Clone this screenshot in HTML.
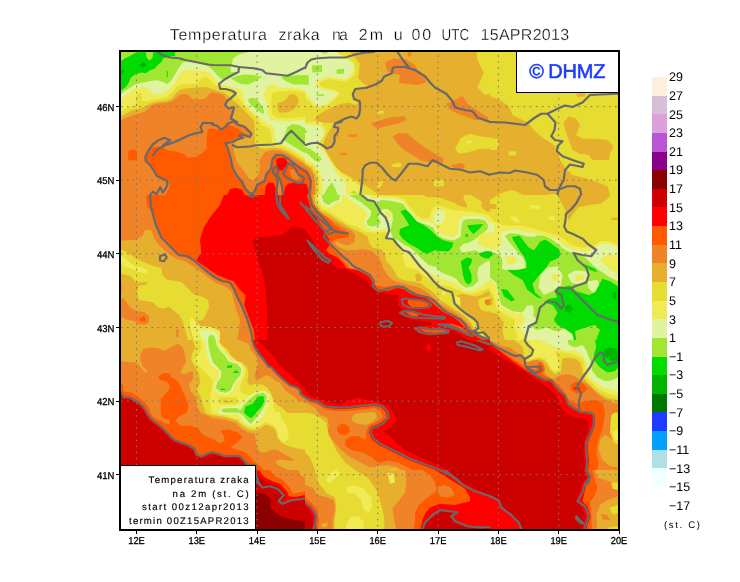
<!DOCTYPE html><html><head><meta charset="utf-8"><title>Temperatura zraka</title><style>html,body{margin:0;padding:0;background:#fff}svg{display:block}text{font-family:"Liberation Sans",sans-serif;text-rendering:geometricPrecision}.tx{filter:url(#idf)}</style></head><body>
<svg width="740" height="582" viewBox="0 0 740 582">
<rect width="740" height="582" fill="#fff"/>
<defs><filter id="idf" x="-5%" y="-20%" width="110%" height="140%"><feOffset dx="0" dy="0"/></filter><clipPath id="fr"><rect x="121" y="52" width="497" height="477"/></clipPath></defs>
<g clip-path="url(#fr)">
<rect x="121" y="52" width="497" height="477" fill="#F08228"/>
<svg x="120" y="50" width="185" height="145" viewBox="0 0 740 580" overflow="hidden">
<rect x="-5" y="-5" width="750" height="590" fill="#F08228"/>
<polygon fill="#E6AF2D" points="4,282 25,271 50,261 75,254 101,246 116,231 131,219 156,214 186,211 206,206 221,194 236,181 251,176 271,178 287,194 312,199 342,194 357,176 368,168 393,173 416,181 426,201 422,221 443,234 453,251 451,274 469,292 494,298 519,318 528,333 519,348 494,356 469,363 458,373 457,389 456,409 464,439 476,459 499,489 516,514 529,522 546,509 557,489 559,464 557,439 569,424 579,409 609,401 639,403 670,415 700,434 740,459 740,0 0,0"/>
<polygon fill="#E6DC32" points="4,266 25,254 50,241 75,236 101,226 121,214 151,206 181,204 206,196 221,176 241,158 271,153 302,151 342,148 368,155 398,165 421,173 443,194 469,214 494,239 514,259 534,279 537,293 539,338 541,384 544,389 579,396 609,391 639,394 670,406 700,424 740,449 740,0 0,0"/>
<polygon fill="#F0EB55" points="4,246 25,231 50,224 65,216 63,191 70,173 85,173 90,186 85,201 101,206 131,199 166,194 191,186 211,166 231,143 251,136 282,138 307,133 327,113 347,108 362,121 370,130 388,145 413,150 438,163 464,178 486,206 506,231 529,254 549,274 562,292 569,303 594,313 604,333 608,363 609,384 649,386 680,401 710,419 740,439 740,0 0,0"/>
<polygon fill="#DFF3A0" points="4,196 20,183 40,168 60,153 85,148 106,151 121,166 141,178 166,178 186,166 201,151 221,128 236,101 246,85 271,80 312,83 347,85 370,100 383,118 398,133 418,141 443,148 469,153 489,163 496,189 501,214 519,234 539,254 564,271 582,292 609,303 619,328 619,353 629,371 654,378 690,396 720,414 740,429 740,0 0,0"/>
<polygon fill="#F0EB55" points="574,176 589,146 614,136 634,151 670,151 710,153 740,161 740,281 680,286 639,284 604,281 589,251 584,211"/>
<polygon fill="#E6DC32" points="607,176 629,166 670,163 710,163 740,171 740,266 670,274 629,271 609,256 604,216"/>
<polygon fill="#E6AF2D" points="632,211 655,206 670,191 680,176 700,178 715,196 712,216 700,234 680,246 655,251 634,249 629,226"/>
<polygon fill="#A0E632" points="4,176 20,163 40,151 60,138 90,131 126,123 151,121 171,128 189,136 206,121 221,96 236,70 251,50 266,45 302,50 322,55 352,65 372,80 388,101 408,118 428,111 456,101 469,88 443,88 443,65 448,55 451,35 476,18 514,8 0,8"/>
<polygon fill="#A0E632" points="443,113 469,103 499,98 539,101 569,108 539,126 514,138 484,136 458,123"/>
<polygon fill="#A0E632" points="642,108 670,103 710,101 740,101 740,138 695,138 665,126"/>
<polygon fill="#A0E632" points="511,201 524,191 544,194 559,211 574,236 577,256 564,251 544,236 524,221"/>
<polygon fill="#A0E632" points="657,363 660,338 670,308 690,296 720,301 740,313 740,414 700,389 670,371"/>
<polygon fill="#00DC00" points="4,43 25,31 45,21 65,9 103,8 106,30 118,43 131,30 133,8 219,8 221,23 201,25 173,33 166,48 151,60 138,75 121,80 103,93 85,90 60,98 43,111 35,131 25,146 10,158 4,161"/>
<polygon fill="#00B400" points="78,60 93,48 107,60 93,70"/>
<polygon fill="#00B400" points="4,83 20,80 10,93 4,96"/>
<polygon fill="#00DC00" points="187,85 191,85 191,108 187,108"/>
<polygon fill="#FF5A00" points="740,484 710,464 690,449 675,436 649,421 624,419 609,439 604,474 584,499 579,524 549,539 541,559 533,575 529,580 525,580 514,569 501,554 489,529 469,504 451,474 443,434 433,399 423,373 443,363 469,353 489,343 494,333 469,313 433,298 423,313 398,321 372,313 352,318 347,348 347,396 327,414 302,429 271,431 256,416 226,406 191,401 171,391 151,386 131,389 116,409 103,434 108,449 126,464 141,487 151,504 171,517 191,522 201,534 196,554 181,580 740,580"/>
<polygon fill="#FF5A00" points="33,406 53,396 68,404 68,441 33,441"/>
<polygon fill="#FF0000" points="428,580 440,556 465,552 490,560 497,580"/>
<polygon fill="#FF0000" points="624,439 639,431 660,434 670,449 665,464 650,482 637,482 627,464"/>
<polygon fill="#FF0000" points="579,580 582,545 595,530 615,532 625,560 640,580"/>
<polygon fill="#FF0000" points="655,580 660,550 672,535 700,530 740,535 740,580"/>
<polygon fill="#F08228" points="675,480 700,474 720,495 715,519 690,515"/>
<polygon fill="#F08228" points="625,500 638,520 645,550 648,580 630,580 632,540"/>
</svg>
<svg x="305" y="50" width="185" height="145" viewBox="0 0 740 580" overflow="hidden">
<rect x="-5" y="-5" width="750" height="590" fill="#E6AF2D"/>
<polygon fill="#E6DC32" points="171,0 201,30 219,55 216,90 211,111 236,136 251,143 201,156 191,176 196,196 214,211 201,221 176,211 146,214 116,226 75,246 45,266 40,280 60,290 116,292 101,318 80,353 75,373 85,404 101,434 121,464 146,489 176,504 201,519 221,534 236,539 261,554 282,570 292,580 0,580 0,0"/>
<polygon fill="#F0EB55" points="0,0 118,0 136,15 166,30 196,50 201,70 199,96 183,113 161,126 133,123 106,117 85,118 68,126 58,136 63,146 83,153 118,158 141,173 123,194 101,214 78,229 48,231 20,211 0,189"/>
<polygon fill="#DFF3A0" points="0,0 116,0 151,30 181,45 194,65 191,90 176,108 156,118 131,113 106,108 80,108 60,118 45,128 43,141 55,153 80,161 116,166 133,176 116,191 96,206 75,221 50,224 25,201 10,176 0,166"/>
<polygon fill="#A0E632" points="28,62 68,60 68,88 30,90"/>
<polygon fill="#A0E632" points="126,78 156,75 157,95 127,96"/>
<polygon fill="#A0E632" points="0,100 15,102 15,138 0,140"/>
<polygon fill="#A0E632" points="45,176 75,177 75,184 45,183"/>
<polygon fill="#A0E632" points="68,8 90,8 90,14 68,14"/>
<polygon fill="#F0EB55" points="0,288 65,288 83,318 75,343 60,368 83,409 106,444 126,474 146,494 171,512 196,527 216,539 226,554 221,580 56,580 58,524 50,489 30,461 0,449"/>
<polygon fill="#DFF3A0" points="0,298 45,300 70,313 78,333 70,353 50,368 50,385 75,404 96,439 116,474 131,499 151,519 166,539 161,559 166,580 68,580 70,549 68,514 58,481 35,454 0,439"/>
<polygon fill="#A0E632" points="0,389 20,394 50,419 68,436 55,449 35,439 15,419 0,409"/>
<polygon fill="#A0E632" points="75,580 88,554 108,529 123,559 131,580"/>
<polygon fill="#A0E632" points="181,570 196,562 216,580"/>
<polygon fill="#A0E632" points="0,320 8,322 8,332 0,332"/>
<polygon fill="#E6AF2D" points="0,456 25,469 43,497 48,529 46,580 0,580"/>
<polygon fill="#F08228" points="0,461 20,474 35,499 40,529 39,580 0,580"/>
<polygon fill="#FF5A00" points="0,477 15,489 25,514 28,539 25,580 0,580"/>
<polygon fill="#FF0000" points="0,534 8,539 13,559 11,580 0,580"/>
<polygon fill="#F08228" points="320,50 350,35 400,35 440,60 450,80 480,110 485,130 450,140 400,135 375,130 380,100 355,95 330,85"/>
<polygon fill="#F08228" points="565,215 630,185 650,215 700,250 735,270 730,280 680,280 640,265 600,250 575,235"/>
<polygon fill="#F08228" points="262,295 290,285 340,270 400,265 405,280 370,295 320,305 290,315"/>
<polygon fill="#F08228" points="350,345 375,332 410,335 440,360 480,390 520,415 555,435 550,455 510,450 470,445 430,420 395,400 370,375"/>
<polygon fill="#F08228" points="580,462 620,452 640,460 635,475 600,472"/>
<polygon fill="#F08228" points="173,338 209,338 209,347 173,347"/>
<polygon fill="#F08228" points="123,338 136,338 136,346 123,346"/>
<polygon fill="#F08228" points="141,411 168,411 168,420 141,420"/>
<polygon fill="#F08228" points="410,8 425,8 425,25 410,25"/>
<polygon fill="#E6DC32" points="685,0 690,40 715,90 690,150 720,180 740,175 740,0"/>
<polygon fill="#E6DC32" points="600,395 625,350 660,335 700,345 740,350 740,395 700,395 650,410 615,415"/>
<polygon fill="#F0EB55" points="648,362 666,362 666,372 648,372"/>
<polygon fill="#E6DC32" points="290,243 315,243 315,255 290,255"/>
<polygon fill="#E6DC32" points="342,459 372,451 385,452 385,468 352,468"/>
<polygon fill="#E6DC32" points="515,522 555,520 555,545 515,545"/>
<polygon fill="#E6DC32" points="287,529 317,524 302,549 289,554"/>
</svg>
<svg x="490" y="50" width="185" height="145" viewBox="0 0 740 580" overflow="hidden">
<rect x="-5" y="-5" width="750" height="590" fill="#E6DC32"/>
<polygon fill="#E6AF2D" points="0,185 40,200 75,225 90,260 120,275 150,290 175,320 215,355 250,375 270,400 280,440 300,470 330,500 370,510 420,525 470,545 480,580 0,580"/>
<polygon fill="#E6DC32" points="0,352 30,355 36,380 25,400 0,400"/>
<polygon fill="#E6DC32" points="75,405 105,405 105,422 75,422"/>
<polygon fill="#E6DC32" points="30,580 60,567 89,560 115,570 130,580"/>
<polygon fill="#E6DC32" points="225,580 255,575 270,580"/>
<polygon fill="#E6AF2D" points="295,290 315,265 345,275 360,300 345,340 370,355 420,355 470,360 495,385 480,415 475,440 410,440 395,420 360,415 330,400 315,360 300,320"/>
<polygon fill="#E6AF2D" points="345,175 380,172 380,186 350,188"/>
</svg>
<svg x="120" y="195" width="185" height="145" viewBox="0 0 740 580" overflow="hidden">
<rect x="-5" y="-5" width="750" height="590" fill="#E6AF2D"/>
<polygon fill="#F08228" points="0,0 125,0 130,60 145,110 170,170 205,205 240,240 275,245 305,265 345,300 385,330 412,345 440,350 458,375 472,410 492,450 512,500 527,550 532,580 470,580 475,540 480,500 465,460 455,420 445,385 420,365 380,350 340,320 300,290 260,265 225,255 195,235 165,210 140,180 125,140 100,140 90,165 60,180 0,182"/>
<polygon fill="#FF5A00" points="105,0 108,45 128,70 145,110 170,170 205,205 240,240 275,245 305,265 345,300 385,330 412,345 440,350 458,375 472,410 492,450 512,500 527,550 532,580 740,580 740,0"/>
<polygon fill="#FF0000" points="415,0 400,40 360,90 335,130 320,180 325,230 305,262 345,290 385,318 425,335 455,345 478,378 503,400 497,440 520,500 535,540 540,580 740,580 740,0"/>
<polygon fill="#CD0000" points="530,185 545,170 600,165 650,160 690,125 720,130 740,140 740,580 590,580 588,480 585,400 575,330 555,270 540,220"/>
<polygon fill="#E6DC32" points="0,216 20,226 45,241 70,256 101,271 131,282 151,290 166,290 168,318 186,338 216,343 246,348 271,373 297,399 327,406 352,419 357,449 347,469 337,489 332,499 312,504 292,494 282,509 276,529 282,554 292,580 271,580 261,539 251,504 236,479 216,464 196,446 176,454 151,449 131,429 101,424 75,419 68,389 75,363 108,358 108,348 65,351 40,323 10,316 0,318"/>
<polygon fill="#F0EB55" points="0,241 20,251 40,271 60,287 90,288 111,303 106,313 85,311 65,303 45,295 20,285 0,275"/>
<polygon fill="#F0EB55" points="279,499 289,489 302,504 322,524 372,529 400,545 400,580 294,580 284,549 279,524"/>
<polygon fill="#DFF3A0" points="317,544 342,539 372,542 392,560 395,580 332,580 322,562"/>
<polygon fill="#A0E632" points="352,570 362,559 376,563 382,580 354,580"/>
<polygon fill="#F08228" points="0,419 15,414 30,434 45,454 70,464 101,471 118,487 116,509 101,519 75,517 55,504 30,499 5,489 0,487"/>
<polygon fill="#FF5A00" points="75,497 93,484 103,492 101,507 85,507"/>
<polygon fill="#F08228" points="0,353 8,358 8,384 0,389"/>
<polygon fill="#F08228" points="224,537 234,537 234,570 224,567"/>
</svg>
<svg x="305" y="195" width="185" height="145" viewBox="0 0 740 580" overflow="hidden">
<rect x="-5" y="-5" width="750" height="590" fill="#E6DC32"/>
<polygon fill="#E6AF2D" points="472,0 488,8 538,10 563,20 593,30 623,45 648,50 646,35 633,15 638,0"/>
<polygon fill="#E6AF2D" points="666,0 679,10 699,20 709,30 704,45 724,65 744,68 744,0"/>
<polygon fill="#F0EB55" points="45,0 50,30 70,55 101,70 126,85 151,101 176,118 211,128 236,146 271,151 302,151 322,146 335,175 360,190 380,220 395,260 402,288 447,298 473,318 503,343 538,358 573,363 603,376 633,389 664,396 694,389 724,376 744,373 744,83 714,75 674,68 633,65 598,60 573,55 538,43 513,48 505,65 498,90 473,96 447,80 422,50 397,18 372,8 340,5 300,3 256,0"/>
<polygon fill="#DFF3A0" points="156,0 181,20 211,40 236,60 251,75 236,108 246,131 271,141 302,138 322,131 330,160 325,173 350,178 372,195 392,215 417,225 437,250 462,285 473,288 503,313 538,333 573,343 603,353 623,368 643,384 674,381 699,368 724,348 744,343 744,116 739,111 724,93 699,83 664,83 633,85 618,98 612,121 613,151 598,168 573,166 543,156 528,141 518,118 498,108 462,103 437,85 415,55 392,25 372,18 342,13 302,12 271,15 256,0"/>
<polygon fill="#DFF3A0" points="518,75 528,63 548,60 563,75 558,96 543,116 523,118 515,101"/>
<polygon fill="#DFF3A0" points="53,0 150,0 146,28 120,35 100,53 70,40 55,20"/>
<polygon fill="#A0E632" points="65,0 140,0 135,20 115,25 95,40 75,30"/>
<polygon fill="#A0E632" points="176,0 201,15 226,30 251,50 266,65 261,85 246,106 251,121 271,126 297,121 302,106 292,90 302,75 312,63 297,50 282,25 251,20 231,0"/>
<polygon fill="#A0E632" points="297,55 289,35 302,20 342,23 372,30 392,35 412,65 432,93 457,111 493,121 513,131 523,151 538,166 568,178 598,181 623,166 626,126 633,101 654,96 694,96 719,101 731,118 731,136 714,151 694,166 674,181 654,191 633,196 618,211 628,231 654,226 684,221 704,236 744,221 744,262 720,270 694,288 689,318 694,343 674,363 643,371 618,353 603,333 573,321 543,308 523,288 495,280 470,258 445,233 420,210 395,198 372,181 352,171 342,146 347,116 352,101 327,101 307,85 302,65"/>
<polygon fill="#DFF3A0" points="302,65 307,85 327,101 352,101 350,75 335,58 315,55"/>
<polygon fill="#F0EB55" points="318,68 340,66 346,85 325,90"/>
<polygon fill="#F0EB55" points="700,156 744,150 744,211 715,211 694,196 690,175"/>
<polygon fill="#00DC00" points="382,65 402,58 422,75 447,106 473,118 503,141 528,166 553,181 593,191 588,211 573,226 543,224 518,221 493,234 473,231 447,211 417,196 392,176 377,156 380,136 417,121 402,96"/>
<polygon fill="#00DC00" points="648,121 714,116 694,138 674,156 659,141"/>
<polygon fill="#00DC00" points="643,156 651,156 651,168 643,168"/>
<polygon fill="#00DC00" points="694,234 724,224 744,226 744,251 724,254 704,246"/>
<polygon fill="#00DC00" points="623,266 648,249 669,256 664,276 654,288 666,318 666,348 654,358 641,348 631,318 628,292"/>
<polygon fill="#E6AF2D" points="608,401 633,395 654,401 684,406 704,401 724,389 744,386 744,580 724,570 704,549 694,529 684,509 664,489 643,474 623,454 613,429"/>
<polygon fill="#E6DC32" points="694,419 714,409 744,404 744,464 724,466 704,459 694,439"/>
<polygon fill="#F08228" points="719,421 734,416 744,419 744,441 726,441 719,431"/>
<polygon fill="#F0EB55" points="548,386 563,386 563,401 548,401"/>
<polygon fill="#F0EB55" points="600,405 620,410 622,440 605,435"/>
<polygon fill="#E6AF2D" points="440,320 455,312 468,325 465,345 445,345"/>
<polygon fill="#E6AF2D" points="38,0 43,35 65,63 101,80 126,98 151,113 176,128 201,141 226,151 251,166 256,191 271,211 302,216 322,236 322,261 345,285 360,310 372,331 402,343 432,346 462,353 498,378 523,399 538,419 563,434 593,454 618,469 638,484 654,499 664,514 680,540 700,560 744,575 744,580 0,580 0,0"/>
<polygon fill="#F08228" points="30,0 35,40 55,65 85,85 111,101 136,116 161,131 191,146 201,161 196,191 171,201 146,196 131,186 116,191 141,211 166,221 201,221 231,216 261,221 282,236 302,261 312,292 330,320 350,340 372,348 402,356 432,363 462,373 493,394 518,414 538,434 563,449 588,464 613,479 633,494 648,509 661,524 669,539 690,560 744,578 744,580 0,580 0,0"/>
<polygon fill="#FF5A00" points="22,0 33,30 50,60 75,80 101,101 121,121 151,138 173,151 176,166 151,173 126,176 111,186 101,201 116,221 136,241 151,261 166,274 176,292 200,300 250,315 270,340 285,362 320,368 350,362 372,361 397,368 422,381 452,394 483,404 508,419 523,434 543,449 568,464 593,477 618,492 638,509 654,529 674,549 694,562 724,575 744,580 744,580 0,580 0,0"/>
<polygon fill="#FF0000" points="8,0 15,30 25,60 45,90 65,121 80,151 96,176 98,201 85,221 101,236 131,251 151,271 166,292 210,300 255,325 272,352 290,377 330,384 372,371 397,378 422,396 452,406 483,411 503,426 523,444 543,461 568,477 593,489 613,504 633,524 654,544 674,559 694,572 714,580 0,580 0,0"/>
<polygon fill="#CD0000" points="0,143 15,156 30,181 45,206 60,231 75,251 101,266 116,282 126,292 160,296 200,315 245,338 262,365 285,388 330,396 372,400 375,425 372,439 387,459 377,474 402,489 437,499 468,504 503,509 508,519 473,524 442,529 437,539 457,554 488,562 523,559 573,554 593,539 613,554 643,575 654,580 0,580"/>
<polygon fill="#FF5A00" points="410,421 437,416 473,426 495,434 493,446 462,449 427,448 412,436"/>
<polygon fill="#FF5A00" points="402,469 427,465 457,479 447,487 422,482"/>
<polygon fill="#FF5A00" points="452,534 493,539 523,537 563,542 568,549 523,552 483,549"/>
<polygon fill="#FF5A00" points="538,517 573,522 608,539 643,559 674,570 654,549 618,524 583,514"/>
</svg>
<svg x="490" y="195" width="185" height="145" viewBox="0 0 740 580" overflow="hidden">
<rect x="-5" y="-5" width="750" height="590" fill="#E6DC32"/>
<polygon fill="#E6AF2D" points="270,0 285,30 300,57 316,102 330,80 353,49 400,40 444,34 470,15 482,0"/>
<polygon fill="#E6AF2D" points="0,35 25,38 25,55 0,55"/>
<polygon fill="#E6AF2D" points="0,0 30,0 0,20"/>
<polygon fill="#E6AF2D" points="485,90 512,90 512,100 485,100"/>
<polygon fill="#F0EB55" points="160,40 200,40 200,55 160,55"/>
<polygon fill="#F0EB55" points="80,85 101,85 118,101 116,113 101,108 83,96"/>
<polygon fill="#F0EB55" points="235,85 260,85 260,100 235,100"/>
<polygon fill="#F0EB55" points="0,88 20,108 50,121 80,123 111,121 141,126 171,133 201,143 231,151 266,161 292,173 322,196 352,206 372,211 420,200 440,185 480,185 512,200 512,580 0,580"/>
<polygon fill="#DFF3A0" points="40,151 65,143 101,138 141,148 171,151 201,156 231,166 261,176 282,191 312,211 342,221 372,226 380,230 420,215 440,195 480,195 512,210 512,240 470,235 440,260 470,290 512,320 512,580 0,580 0,216 30,218 45,200 48,175"/>
<polygon fill="#DFF3A0" points="0,111 15,113 20,146 0,151"/>
<polygon fill="#A0E632" points="60,163 80,153 116,156 146,166 176,168 191,161 216,163 241,173 266,191 282,206 302,221 342,236 372,241 410,280 450,310 480,330 512,345 512,580 340,580 330,560 300,535 260,545 230,530 185,540 160,520 190,500 170,480 175,455 150,440 130,470 90,465 45,440 35,400 25,350 0,330 0,236 20,231 40,241 50,261 48,295 60,300 120,298 141,292 141,271 133,251 116,234 96,211 75,186"/>
<polygon fill="#DFF3A0" points="200,320 230,290 270,285 290,320 285,360 250,385 215,400 195,370"/>
<polygon fill="#F0EB55" points="245,318 272,315 275,340 250,345"/>
<polygon fill="#DFF3A0" points="310,320 340,302 385,305 392,335 360,360 325,350"/>
<polygon fill="#F0EB55" points="340,322 378,320 380,342 345,345"/>
<polygon fill="#DFF3A0" points="52,250 65,238 108,236 122,260 115,292 65,294 52,280"/>
<polygon fill="#F0EB55" points="60,245 100,245 108,270 70,278"/>
<polygon fill="#DFF3A0" points="390,345 430,340 440,375 410,390 392,370"/>
<polygon fill="#DFF3A0" points="150,445 172,440 175,478 155,480"/>
<polygon fill="#DFF3A0" points="460,515 475,515 475,545 460,545"/>
<polygon fill="#00DC00" points="88,168 118,163 136,186 156,211 176,221 191,201 201,186 221,178 241,191 261,206 276,216 282,241 266,256 241,266 225,290 190,330 170,355 180,390 210,415 190,410 150,380 130,340 95,320 70,300 110,300 146,292 146,271 136,246 121,226 106,201 93,181"/>
<polygon fill="#00DC00" points="275,372 320,362 345,385 395,400 420,390 450,335 480,345 512,365 512,580 425,580 440,540 420,520 380,530 340,545 345,580 335,580 330,555 300,535 270,520 255,500 270,470 250,440 215,430 235,415 268,410 262,390"/>
<polygon fill="#00DC00" points="45,375 70,380 100,420 85,425 55,405"/>
<polygon fill="#00DC00" points="375,275 420,295 430,310 400,300"/>
<polygon fill="#00DC00" points="0,225 10,228 10,245 0,245"/>
<polygon fill="#00B400" points="300,445 320,438 332,455 320,472 302,465"/>
<polygon fill="#00B400" points="490,390 505,385 505,420 492,415"/>
<polygon fill="#F0EB55" points="0,335 22,355 30,400 40,445 85,470 128,475 140,500 120,530 140,560 150,580 0,580"/>
<polygon fill="#E6DC32" points="0,380 15,400 25,450 60,480 100,500 95,530 110,560 105,580 0,580"/>
<polygon fill="#E6AF2D" points="0,470 30,475 55,510 50,550 60,580 0,580"/>
<polygon fill="#E6AF2D" points="0,410 10,412 10,440 0,440"/>
</svg>
<svg x="120" y="340" width="185" height="145" viewBox="0 0 740 580" overflow="hidden">
<rect x="-5" y="-5" width="750" height="590" fill="#F08228"/>
<polygon fill="#E6AF2D" points="0,0 300,0 302,30 287,55 284,80 297,101 314,131 322,166 314,191 307,201 322,226 332,261 342,292 322,292 307,261 302,226 282,201 277,176 294,156 292,126 282,126 256,138 241,131 251,111 264,90 261,60 251,30 231,15 201,30 176,43 151,33 121,30 96,35 83,50 80,75 90,106 108,121 108,131 96,126 80,106 65,90 30,88 0,85"/>
<polygon fill="#E6AF2D" points="479,0 514,15 524,40 544,65 554,90 541,131 539,151 559,156 584,141 604,146 619,161 639,171 660,201 690,221 710,241 740,251 740,580 660,580 650,559 660,539 670,519 650,509 629,499 622,487 639,477 670,482 695,484 690,474 670,464 650,454 629,439 604,439 584,449 564,449 549,434 544,409 539,376 509,368 484,353 464,333 418,318 368,311 345,300 322,292 307,261 302,226 282,201 277,176 294,156 292,126 290,60 295,0"/>
<polygon fill="#E6DC32" points="289,0 302,30 287,55 284,80 297,101 314,131 322,166 314,191 307,201 322,226 332,261 342,292 368,301 418,308 469,323 489,343 514,358 539,363 559,353 584,338 609,348 624,363 629,389 639,404 660,419 690,429 720,436 740,439 740,292 670,292 650,271 629,261 614,241 604,211 589,191 569,178 539,176 519,181 509,166 514,136 509,111 489,90 469,85 443,60 428,35 403,20 398,0"/>
<polygon fill="#F0EB55" points="322,0 327,35 307,65 304,90 322,111 342,131 362,151 372,166 365,200 360,240 362,270 368,293 418,301 469,316 489,333 514,348 539,353 559,343 584,328 609,338 629,358 634,389 650,409 665,404 675,384 670,353 650,318 639,288 625,288 614,271 612,241 600,216 579,201 539,211 519,221 494,216 479,201 484,171 499,146 501,116 489,93 464,83 438,60 418,35 398,10 396,0"/>
<polygon fill="#E6DC32" points="396,229 468,229 468,256 396,256"/>
<polygon fill="#E6AF2D" points="418,244 438,244 438,249 418,249"/>
<polygon fill="#DFF3A0" points="340,0 391,0 394,18 410,42 430,60 440,79 473,89 494,113 489,144 471,166 458,186 450,207 425,219 395,214 376,196 380,170 395,150 397,128 380,112 362,98 350,65 344,30"/>
<polygon fill="#DFF3A0" points="393,292 405,268 470,264 488,255 514,229 541,208 577,203 595,220 592,254 582,276 584,288 569,308 549,328 529,343 514,343 494,326 479,303 469,296 400,297"/>
<polygon fill="#A0E632" points="352,0 383,0 386,20 403,45 423,65 433,85 469,96 486,116 481,141 464,161 451,181 443,201 423,211 398,206 383,191 388,171 403,151 406,126 388,106 372,90 362,60 355,30"/>
<polygon fill="#A0E632" points="476,290 494,261 519,236 544,216 574,211 587,224 584,251 574,271 562,290 539,318 524,336 509,323 494,303"/>
<polygon fill="#A0E632" points="405,285 413,274 464,272 480,280 476,292 450,290 415,290"/>
<polygon fill="#00DC00" points="496,290 501,266 529,256 554,226 574,224 577,246 567,266 544,290 541,298 524,313 509,303"/>
<polygon fill="#00DC00" points="428,103 448,101 448,111 428,111"/>
<polygon fill="#00DC00" points="451,132 465,120 476,132"/>
<polygon fill="#00DC00" points="403,195 421,195 421,200 403,200"/>
<polygon fill="#FF5A00" points="151,151 171,133 196,133 206,151 226,161 241,181 251,206 261,226 271,251 274,271 266,292 241,303 221,323 241,343 282,343 312,353 332,378 352,389 372,396 398,414 418,404 416,384 403,363 433,358 469,368 491,389 469,409 443,429 469,439 499,449 519,464 539,489 559,504 579,524 604,539 639,544 660,559 670,580 559,580 554,570 544,539 541,502 509,497 494,479 476,463 418,464 398,456 368,449 352,454 327,466 307,459 297,434 271,419 241,409 216,399 196,378 171,353 146,333 121,313 108,292 96,271 75,251 50,236 35,229 15,229 0,206 0,199 20,206 45,211 70,226 96,246 116,271 121,288 133,308 161,323 181,333 199,338 201,323 166,308 163,288 163,236 176,221 196,201 199,181 186,166 166,161"/>
<polygon fill="#FF5A00" points="0,171 10,176 15,201 0,206"/>
<polygon fill="#FF0000" points="0,206 15,229 35,229 50,236 75,251 96,271 108,292 121,313 146,333 171,353 196,378 216,399 241,409 271,419 297,434 307,459 327,466 352,454 368,449 398,456 418,464 476,463 494,479 509,497 541,502 544,539 554,570 559,580 0,580"/>
<polygon fill="#CD0000" points="0,214 12,236 35,237 48,244 71,258 90,277 102,297 116,320 141,340 166,360 191,385 212,406 239,417 268,427 291,440 301,466 327,474 352,462 368,457 398,464 418,472 473,471 488,485 503,504 534,509 537,542 546,572 550,580 0,580"/>
<polygon fill="#FF0000" points="529,0 539,30 559,60 579,85 594,106 604,108 629,136 655,161 680,181 710,191 720,201 722,216 740,229 740,0"/>
<polygon fill="#CD0000" points="554,0 569,20 589,40 614,65 634,96 660,121 690,146 720,176 740,191 740,0"/>
</svg>
<svg x="305" y="340" width="185" height="145" viewBox="0 0 740 580" overflow="hidden">
<rect x="-5" y="-5" width="750" height="590" fill="#CD0000"/>
<polygon fill="#FF0000" points="0,200 25,225 60,238 100,250 140,258 180,240 210,232 250,240 300,250 335,265 355,290 365,320 345,350 310,365 340,385 370,415 400,440 450,465 500,485 540,505 580,525 620,550 650,580 0,580"/>
<polygon fill="#FF0000" points="478,30 495,12 508,30 495,48"/>
<polygon fill="#FF0000" points="660,0 700,10 740,25 740,0"/>
<polygon fill="#FF5A00" points="0,232 20,244 50,250 80,270 130,276 180,274 230,268 280,263 305,270 323,288 328,310 305,330 265,348 255,370 268,398 295,420 335,440 375,460 415,480 455,495 495,510 535,525 575,545 600,562 615,580 0,580"/>
<polygon fill="#F08228" points="0,238 20,250 50,258 80,278 130,285 180,283 230,278 280,272 300,282 312,305 292,325 255,342 245,370 242,400 215,385 185,385 162,400 162,425 190,442 232,450 265,468 295,492 335,482 375,492 415,512 445,532 480,545 520,550 560,565 575,580 0,580"/>
<polygon fill="#FF5A00" points="130,345 150,333 175,345 180,365 165,380 140,378 128,362"/>
<polygon fill="#E6AF2D" points="0,250 25,262 45,275 60,300 90,310 95,340 90,370 110,400 135,430 175,465 220,490 260,510 290,505 330,500 370,510 400,530 415,555 440,560 470,580 0,580"/>
<polygon fill="#E6AF2D" points="185,310 200,295 240,290 280,288 290,305 275,325 245,340 210,335 190,325"/>
<polygon fill="#E6DC32" points="0,290 30,295 60,310 85,330 95,380 125,440 160,490 200,520 235,545 260,580 0,580"/>
<polygon fill="#E6DC32" points="300,580 310,540 330,520 360,515 385,535 390,580"/>
<polygon fill="#F0EB55" points="90,545 110,520 130,518 135,535 115,560 95,580 85,575"/>
<polygon fill="#F0EB55" points="320,535 345,530 358,545 355,580 335,580"/>
<polygon fill="#E6AF2D" points="0,450 20,470 40,520 45,580 0,580"/>
</svg>
<svg x="490" y="340" width="185" height="145" viewBox="0 0 740 580" overflow="hidden">
<rect x="-5" y="-5" width="750" height="590" fill="#CD0000"/>
<polygon fill="#FF0000" points="0,40 40,65 80,90 120,115 170,150 210,175 240,195 265,220 280,260 300,290 340,310 380,315 395,330 390,370 375,410 375,460 380,500 375,540 380,580 512,580 512,0 0,0"/>
<polygon fill="#FF5A00" points="0,15 40,45 80,75 120,105 150,125 180,140 210,155 240,165 270,190 300,225 310,250 340,275 360,290 400,295 418,305 420,340 405,380 392,410 392,450 397,480 392,520 405,550 398,580 512,580 512,0 0,0"/>
<polygon fill="#F08228" points="0,8 40,38 80,66 120,95 150,112 185,120 215,140 245,155 275,180 300,210 315,240 345,255 380,245 420,240 450,250 460,290 455,330 445,370 430,410 425,450 435,490 425,530 430,580 512,580 512,0 0,0"/>
<polygon fill="#FF5A00" points="322,180 345,165 375,175 390,195 370,215 340,212 325,200"/>
<polygon fill="#FF0000" points="335,190 360,190 360,198 335,198"/>
<polygon fill="#FF5A00" points="191,93 206,90 216,106 221,126 201,136 186,121"/>
<polygon fill="#E6AF2D" points="0,3 30,15 50,25 80,30 101,45 121,60 136,75 146,88 166,83 191,80 211,90 221,111 216,131 231,146 251,156 282,141 312,136 342,146 362,161 372,166 400,185 430,215 455,235 490,250 512,255 512,0 0,0"/>
<polygon fill="#E6AF2D" points="440,400 460,380 480,390 512,420 512,510 480,505 450,480 435,440"/>
<polygon fill="#E6DC32" points="485,300 500,290 512,290 512,420 495,410 480,370 482,330"/>
<polygon fill="#F0EB55" points="492,365 512,360 512,400 498,398"/>
<polygon fill="#E6DC32" points="95,0 121,18 133,35 136,55 141,80 151,88 171,80 196,75 216,83 231,101 241,121 261,136 282,131 287,101 289,75 312,70 342,75 362,90 369,126 372,146 385,165 410,190 440,215 470,232 512,240 512,0"/>
<polygon fill="#F0EB55" points="140,0 160,15 171,30 173,55 156,73 166,75 196,68 221,75 236,96 246,116 261,126 274,121 276,96 271,75 261,55 266,45 292,50 322,55 352,65 372,75 378,100 378,140 395,160 420,185 450,205 480,218 512,225 512,0"/>
<polygon fill="#DFF3A0" points="200,0 230,15 270,30 300,45 340,40 370,60 390,100 395,140 415,165 445,185 480,198 512,205 512,0"/>
<polygon fill="#A0E632" points="310,0 315,20 340,30 370,20 385,40 400,80 410,125 430,150 460,165 490,160 512,150 512,0"/>
<polygon fill="#00DC00" points="420,0 425,30 415,60 420,85 440,110 470,130 500,125 512,110 512,0"/>
<polygon fill="#00B400" points="455,40 480,30 505,35 512,50 512,80 490,85 465,70"/>
</svg>
<svg x="120" y="470" width="185" height="65" viewBox="0 0 740 260" overflow="hidden">
<rect x="-5" y="-5" width="750" height="270" fill="#CD0000"/>
<polygon fill="#8B0000" points="545,90 580,95 605,120 600,150 620,170 650,190 700,200 740,205 740,260 545,260"/>
<polygon fill="#FF0000" points="545,15 575,40 600,55 630,65 660,95 660,115 645,128 700,125 740,118 740,0 545,0"/>
<polygon fill="#FF5A00" points="555,0 580,30 610,45 640,55 668,85 675,105 700,108 740,100 740,0"/>
<polygon fill="#F08228" points="600,0 620,25 650,40 680,70 690,95 740,85 740,0"/>
<polygon fill="#E6AF2D" points="715,0 720,20 740,30 740,0"/>
</svg>
<svg x="305" y="470" width="185" height="65" viewBox="0 0 740 260" overflow="hidden">
<rect x="-5" y="-5" width="750" height="270" fill="#E6AF2D"/>
<polygon fill="#E6DC32" points="40,0 200,0 250,30 280,70 300,120 315,180 320,260 115,260 120,190 125,150 120,110 90,95 60,60 45,30"/>
<polygon fill="#F0EB55" points="95,15 125,0 140,15 110,45 95,55 85,40"/>
<polygon fill="#F0EB55" points="165,70 195,60 235,75 265,110 268,150 255,170 235,160 225,120 200,95 170,90"/>
<polygon fill="#F0EB55" points="165,215 185,185 215,185 235,210 230,260 165,260"/>
<polygon fill="#F0EB55" points="330,10 355,15 360,50 340,55"/>
<polygon fill="#F08228" points="0,60 30,70 50,100 90,110 115,120 120,160 110,200 110,260 0,260"/>
<polygon fill="#E6AF2D" points="65,215 90,210 90,225 70,232"/>
<polygon fill="#FF5A00" points="0,110 25,130 50,160 55,200 50,260 0,260"/>
<polygon fill="#FF0000" points="0,125 20,145 40,175 45,210 40,260 0,260"/>
<polygon fill="#CD0000" points="0,140 15,160 30,185 35,260 0,260"/>
<polygon fill="#F08228" points="400,0 405,40 400,90 370,130 350,150 355,190 370,260 740,260 740,0"/>
<polygon fill="#FF5A00" points="470,0 500,20 520,50 525,85 490,110 455,140 440,170 440,200 430,260 740,260 740,0"/>
<polygon fill="#F08228" points="525,70 560,60 590,75 600,100 570,110 540,105"/>
<polygon fill="#FF0000" points="520,0 560,25 600,50 640,75 660,110 660,125 600,140 540,135 500,150 480,175 470,200 455,260 740,260 740,0"/>
<polygon fill="#CD0000" points="570,0 600,25 640,55 690,80 740,100 740,0"/>
<polygon fill="#CD0000" points="465,260 485,210 515,185 545,165 580,170 605,175 585,190 600,210 650,228 700,232 740,230 740,260"/>
</svg>
<svg x="490" y="470" width="185" height="65" viewBox="0 0 740 260" overflow="hidden">
<rect x="-5" y="-5" width="750" height="270" fill="#CD0000"/>
<polygon fill="#FF0000" points="0,100 30,115 50,150 90,185 120,215 140,260 0,260"/>
<polygon fill="#FF0000" points="375,0 385,30 368,55 358,90 345,125 370,150 380,185 375,215 360,260 512,260 512,0"/>
<polygon fill="#FF5A00" points="390,0 405,30 385,55 378,90 370,125 390,145 402,185 392,215 380,260 512,260 512,0"/>
<polygon fill="#F08228" points="410,0 420,40 430,70 420,100 400,130 405,170 408,260 512,260 512,0"/>
<polygon fill="#E6AF2D" points="420,0 430,30 460,40 490,50 512,45 512,0"/>
<polygon fill="#E6AF2D" points="425,180 440,140 470,120 512,105 512,260 430,260"/>
<polygon fill="#E6DC32" points="485,50 512,48 512,80 490,75"/>
<polygon fill="#E6DC32" points="480,150 512,140 512,170 500,180 485,170"/>
<polygon fill="#E6DC32" points="470,236 480,228 512,225 512,236"/>
<polygon fill="#F08228" points="445,175 470,180 480,200 450,198"/>
</svg>
<g stroke="#787878" stroke-width="1" stroke-dasharray="1.6 4.5" fill="none">
<line x1="136.5" y1="52" x2="136.5" y2="529" stroke-dashoffset="2.9"/>
<line x1="196.8" y1="52" x2="196.8" y2="529" stroke-dashoffset="2.9"/>
<line x1="257.1" y1="52" x2="257.1" y2="529" stroke-dashoffset="2.9"/>
<line x1="317.4" y1="52" x2="317.4" y2="529" stroke-dashoffset="2.9"/>
<line x1="377.7" y1="52" x2="377.7" y2="529" stroke-dashoffset="2.9"/>
<line x1="438.1" y1="52" x2="438.1" y2="529" stroke-dashoffset="2.9"/>
<line x1="498.4" y1="52" x2="498.4" y2="529" stroke-dashoffset="2.9"/>
<line x1="558.7" y1="52" x2="558.7" y2="529" stroke-dashoffset="2.9"/>
<line x1="121" y1="106.6" x2="618" y2="106.6"/>
<line x1="121" y1="180.2" x2="618" y2="180.2"/>
<line x1="121" y1="253.8" x2="618" y2="253.8"/>
<line x1="121" y1="327.5" x2="618" y2="327.5"/>
<line x1="121" y1="401.1" x2="618" y2="401.1"/>
<line x1="121" y1="474.7" x2="618" y2="474.7"/>
</g>
<svg x="120" y="50" width="185" height="145" viewBox="0 0 740 580" overflow="hidden">
<g fill="none" stroke="#696969" stroke-width="8.8" stroke-linejoin="round" stroke-linecap="round">
<polyline points="151,8 166,20 201,30 236,33 261,40 302,48 352,58 372,60 443,61 476,68 534,73 569,80 584,93 629,98 670,103 700,90 740,70"/>
<polyline points="476,68 474,88 448,101 418,118 396,136 401,156 423,156 448,163 464,173 448,189 428,204 421,221 436,234 456,229 451,251 443,274 469,289"/>
<polyline points="372,293 332,291 322,308 329,328 302,333 271,343 241,358 211,371 191,378 173,381 201,361 176,351 151,363 131,378 113,404 101,429 103,444 121,461 136,484 146,502 166,514 186,522 191,534 183,554 171,570 161,549 153,564 146,577 131,567 121,580"/>
<polyline points="133,421 146,401 166,389 186,378"/>
<polyline points="368,298 388,303 403,318 418,311 433,293 448,288 458,288 469,298 499,308 519,328 526,336 519,348 491,338 476,343 491,351 469,358 448,368 423,373"/>
<polyline points="423,373 433,399 443,434 451,474 469,504 489,529 501,554 514,569 529,577 541,559 549,539 579,524 584,499 604,474 609,439 624,419 649,421 675,436 690,449 710,464 740,484"/>
<polyline points="451,381 469,389 519,386 544,381 609,378 644,373 665,343 685,323 710,348 740,376"/>
<polyline points="614,474 624,466 632,477 629,499 642,524 649,549 652,580"/>
<polyline points="614,474 612,489 624,504 632,529 627,554 624,580"/>
<polyline points="652,494 675,454 690,459 715,499 737,512 732,527 715,534 690,524 665,509 652,494"/>
</g></svg>
<svg x="305" y="50" width="185" height="145" viewBox="0 0 740 580" overflow="hidden">
<g fill="none" stroke="#696969" stroke-width="8.8" stroke-linejoin="round" stroke-linecap="round">
<polyline points="0,73 10,50 25,38 50,33 101,30 161,30 201,18 236,11 276,8"/>
<polyline points="370,8 395,45 420,75 440,80"/>
<polyline points="126,292 161,274 186,266 206,274 216,261 221,231 219,206 196,196 191,176 201,156 246,151 282,138 307,123 317,106 347,93 352,70 372,68 400,68 440,80 480,105 500,130 520,150 565,175 590,205 600,230 640,240 670,245 690,270 740,288"/>
<polyline points="146,288 121,293 116,308 133,311 131,328 118,343 118,368 108,386 88,394 70,381 50,371 25,373 0,381"/>
<polyline points="221,580 229,524 231,479 241,461 261,451 287,451 307,469 327,494 347,514 362,522 380,500 415,455 450,455 490,465 510,440 540,455 580,475 620,478 660,490 700,485 740,500"/>
<polyline points="0,482 13,499 23,524 20,554 15,580"/>
</g></svg>
<svg x="490" y="50" width="185" height="145" viewBox="0 0 740 580" overflow="hidden">
<g fill="none" stroke="#696969" stroke-width="8.8" stroke-linejoin="round" stroke-linecap="round">
<polyline points="0,288 60,290 100,295 140,300 180,270 205,255 230,255 270,235 300,222 330,228 370,210 400,180 440,178 512,175"/>
<polyline points="230,255 262,290 258,320 245,345 260,360 290,365 270,385 268,405 290,425 330,440 375,455 370,468 320,458 300,480 295,520 275,555 270,580"/>
<polyline points="0,498 40,490 80,492 100,482 150,490 190,500 215,520 220,545 240,560 270,560"/>
<polyline points="270,560 310,545 340,545 360,555 365,580"/>
</g></svg>
<svg x="120" y="195" width="185" height="145" viewBox="0 0 740 580" overflow="hidden">
<g fill="none" stroke="#696969" stroke-width="8.8" stroke-linejoin="round" stroke-linecap="round">
<polyline points="120,0 125,50 140,110 165,170 200,205 235,240 270,245 300,265 340,300 380,330 410,345 440,350 455,375 470,410 490,450 510,500 525,550 530,580"/>
<polyline points="160,245 180,237 187,250 175,265 160,262 160,245"/>
<polyline points="625,0 630,40 650,70 675,95 660,70 640,40 640,0"/>
<polyline points="720,30 740,50"/>
<polyline points="510,0 530,8 545,0"/>
</g></svg>
<svg x="305" y="195" width="185" height="145" viewBox="0 0 740 580" overflow="hidden">
<g fill="none" stroke="#696969" stroke-width="8.8" stroke-linejoin="round" stroke-linecap="round">
<polyline points="20,0 23,35 45,65 65,85 85,106 106,131 116,141 136,148 171,153 141,151 121,146 106,153 80,156 75,166 96,191 126,221 151,246 171,261 191,282 206,292 215,295 260,320 275,345 270,365 295,385 330,375 372,366 392,368 412,381 447,401 493,409 518,424 533,439 548,454 573,474 593,484 623,499 643,519 648,539 674,549 694,562 724,575 744,582"/>
<polyline points="226,0 251,20 276,25 292,50 302,70 322,90 332,116 337,141 324,173 352,176 372,201 392,221 417,229 437,256 462,288 488,313 513,343 538,368 563,381 588,389 593,409 598,434 618,454 643,474 674,494 689,509 694,534 674,544 694,552 714,549 734,570 741,580"/>
<polyline points="0,45 20,60 45,85 75,111 106,136 80,146 60,121 35,96 15,70 0,55"/>
<polyline points="10,183 30,201 55,226 80,251 101,261 93,271 70,259 50,236 25,206 10,183"/>
<polyline points="387,419 397,414 437,418 473,421 498,431 505,441 493,451 447,453 417,451 392,439 387,419"/>
<polyline points="380,471 402,464 432,466 473,479 523,485 558,487 558,495 523,494 473,492 432,489 402,482 380,471"/>
<polyline points="300,510 330,503 348,512 335,526 305,525 300,510"/>
<polyline points="440,534 462,529 503,537 538,534 573,542 571,552 538,554 503,557 462,549 440,534"/>
<polyline points="533,517 573,519 608,534 643,552 674,564 654,559 613,539 573,527 533,517"/>
</g></svg>
<svg x="490" y="195" width="185" height="145" viewBox="0 0 740 580" overflow="hidden">
<g fill="none" stroke="#696969" stroke-width="8.8" stroke-linejoin="round" stroke-linecap="round">
<polyline points="362,0 347,30 327,55 304,75 302,101 297,126 307,146 332,156 372,176 390,195 425,220 405,245 370,240 335,232"/>
<polyline points="335,232 350,260 385,290 395,320 385,350 340,365 320,375 275,370 262,385 285,400 295,440 285,455 265,430 230,425 200,450 185,510 155,525 140,580"/>
<polyline points="330,380 380,430 430,480 470,495 512,508"/>
</g></svg>
<svg x="120" y="340" width="185" height="145" viewBox="0 0 740 580" overflow="hidden">
<g fill="none" stroke="#696969" stroke-width="8.8" stroke-linejoin="round" stroke-linecap="round">
<polyline points="0,206 15,229 35,229 50,236 75,251 96,271 108,292 121,313 146,333 171,353 196,378 216,399 241,409 271,419 297,434 307,459 327,466 352,454 368,449 398,456 418,464 476,463 494,479 509,497 541,502 544,539 554,570 559,580"/>
<polyline points="529,0 539,30 559,60 579,85 594,106 604,108 629,136 655,161 680,181 710,191 720,201 722,216 740,229"/>
</g></svg>
<svg x="305" y="340" width="185" height="145" viewBox="0 0 740 580" overflow="hidden">
<g fill="none" stroke="#696969" stroke-width="8.8" stroke-linejoin="round" stroke-linecap="round">
<polyline points="0,228 20,240 50,245 80,265 130,270 180,268 230,262 280,258 310,265 330,285 335,310 310,335 270,352 262,370 275,395 300,415 340,435 380,455 420,475 460,490 500,505 540,520 580,540 610,560 630,580"/>
<polyline points="608,10 625,5 680,22 710,38 700,42 650,28 612,20 608,10"/>
<polyline points="690,0 740,18"/>
</g></svg>
<svg x="490" y="340" width="185" height="145" viewBox="0 0 740 580" overflow="hidden">
<g fill="none" stroke="#696969" stroke-width="8.8" stroke-linejoin="round" stroke-linecap="round">
<polyline points="0,10 20,25 50,40 80,55 101,65 121,60 138,75 141,101 151,118 176,138 201,151 221,161 246,161 261,186 282,206 302,226 312,256 332,271 362,287 400,290 415,300 415,340 400,380 385,410 385,450 390,480 385,520 400,550 390,580"/>
<polyline points="138,0 151,20 173,40 166,60 141,75"/>
<polyline points="146,108 201,106 204,121 181,133 166,123 146,108"/>
<polyline points="345,190 370,150 400,110 420,70 440,50 455,55 455,85 470,100 512,85"/>
<polyline points="345,190 365,210 355,250 358,285"/>
</g></svg>
<svg x="120" y="470" width="185" height="65" viewBox="0 0 740 260" overflow="hidden">
<g fill="none" stroke="#696969" stroke-width="8.8" stroke-linejoin="round" stroke-linecap="round">
<polyline points="545,45 570,70 600,65 630,75 655,100 635,125 650,135 690,120 740,115"/>
</g></svg>
<svg x="305" y="470" width="185" height="65" viewBox="0 0 740 260" overflow="hidden">
<g fill="none" stroke="#696969" stroke-width="8.8" stroke-linejoin="round" stroke-linecap="round">
<polyline points="560,0 590,25 630,60 680,85 740,105"/>
<polyline points="460,260 480,210 510,180 540,160 580,165 610,170 585,185 600,205 650,225 700,230 740,228"/>
<polyline points="0,130 25,150 45,185 40,215 25,260"/>
</g></svg>
<svg x="490" y="470" width="185" height="65" viewBox="0 0 740 260" overflow="hidden">
<g fill="none" stroke="#696969" stroke-width="8.8" stroke-linejoin="round" stroke-linecap="round">
<polyline points="0,105 35,122 45,150 85,180 115,210 135,260"/>
<polyline points="385,0 400,30 380,55 370,90 350,125 380,145 395,185 385,215 370,260"/>
<polyline points="345,185 360,200 375,215 360,210 345,195 345,185"/>
</g></svg>
<rect x="516" y="50" width="104" height="43" fill="#000"/><rect x="517" y="52" width="101" height="40" fill="#fff"/>
<rect x="119" y="465" width="137" height="66" fill="#000"/><rect x="121" y="466" width="134" height="63" fill="#fff"/>
</g>
<rect x="120" y="51" width="499" height="479" fill="none" stroke="#000" stroke-width="2" shape-rendering="crispEdges"/>
<g stroke="#000" stroke-width="1" shape-rendering="crispEdges">
<line x1="136.5" y1="531" x2="136.5" y2="534"/>
<line x1="196.8" y1="531" x2="196.8" y2="534"/>
<line x1="257.1" y1="531" x2="257.1" y2="534"/>
<line x1="317.4" y1="531" x2="317.4" y2="534"/>
<line x1="377.7" y1="531" x2="377.7" y2="534"/>
<line x1="438.1" y1="531" x2="438.1" y2="534"/>
<line x1="498.4" y1="531" x2="498.4" y2="534"/>
<line x1="558.7" y1="531" x2="558.7" y2="534"/>
<line x1="619.5" y1="531" x2="619.5" y2="534"/>
<line x1="116" y1="106.6" x2="119" y2="106.6"/>
<line x1="116" y1="180.2" x2="119" y2="180.2"/>
<line x1="116" y1="253.8" x2="119" y2="253.8"/>
<line x1="116" y1="327.5" x2="119" y2="327.5"/>
<line x1="116" y1="401.1" x2="119" y2="401.1"/>
<line x1="116" y1="474.7" x2="119" y2="474.7"/>
</g>
<g class="tx" font-size="10px" fill="#000" stroke="#000" stroke-width="0.3">
<text x="136.5" y="543.5" text-anchor="middle" textLength="16.5" lengthAdjust="spacingAndGlyphs">12E</text>
<text x="196.8" y="543.5" text-anchor="middle" textLength="16.5" lengthAdjust="spacingAndGlyphs">13E</text>
<text x="257.1" y="543.5" text-anchor="middle" textLength="16.5" lengthAdjust="spacingAndGlyphs">14E</text>
<text x="317.4" y="543.5" text-anchor="middle" textLength="16.5" lengthAdjust="spacingAndGlyphs">15E</text>
<text x="377.7" y="543.5" text-anchor="middle" textLength="16.5" lengthAdjust="spacingAndGlyphs">16E</text>
<text x="438.1" y="543.5" text-anchor="middle" textLength="16.5" lengthAdjust="spacingAndGlyphs">17E</text>
<text x="498.4" y="543.5" text-anchor="middle" textLength="16.5" lengthAdjust="spacingAndGlyphs">18E</text>
<text x="558.7" y="543.5" text-anchor="middle" textLength="16.5" lengthAdjust="spacingAndGlyphs">19E</text>
<text x="619.0" y="543.5" text-anchor="middle" textLength="16.5" lengthAdjust="spacingAndGlyphs">20E</text>
<text x="114.5" y="110.7" text-anchor="end" textLength="17.5" lengthAdjust="spacingAndGlyphs">46N</text>
<text x="114.5" y="184.3" text-anchor="end" textLength="17.5" lengthAdjust="spacingAndGlyphs">45N</text>
<text x="114.5" y="257.9" text-anchor="end" textLength="17.5" lengthAdjust="spacingAndGlyphs">44N</text>
<text x="114.5" y="331.6" text-anchor="end" textLength="17.5" lengthAdjust="spacingAndGlyphs">43N</text>
<text x="114.5" y="405.2" text-anchor="end" textLength="17.5" lengthAdjust="spacingAndGlyphs">42N</text>
<text x="114.5" y="478.8" text-anchor="end" textLength="17.5" lengthAdjust="spacingAndGlyphs">41N</text>
</g>
<g class="tx" font-size="16px" fill="#000" stroke="#fff" stroke-width="0.3">
<text x="169.7" y="40.3" textLength="97.3" lengthAdjust="spacing">Temperatura</text>
<text x="278.4" y="40.3" textLength="41.2" lengthAdjust="spacing">zraka</text>
<text x="331.9" y="40.3" textLength="16.1" lengthAdjust="spacing">na</text>
<text x="358.8" y="40.3" textLength="24.2" lengthAdjust="spacing">2m</text>
<text x="393.8" y="40.3" textLength="8.2" lengthAdjust="spacing">u</text>
<text x="411.5" y="40.3" textLength="19.7" lengthAdjust="spacing">00</text>
<text x="441.6" y="40.3" textLength="27.6" lengthAdjust="spacingAndGlyphs">UTC</text>
<text x="480.5" y="40.3" textLength="88.6" lengthAdjust="spacing">15APR2013</text>
</g>
<g class="tx" font-size="20px" fill="#1E3CFF" stroke="#1E3CFF" stroke-width="0.6"><text x="529.3" y="78.4" textLength="14.6" lengthAdjust="spacingAndGlyphs">©</text><text x="548.2" y="78.4" textLength="57.2" lengthAdjust="spacing">DHMZ</text></g>
<g class="tx" font-size="9.6px" fill="#000" text-anchor="end" stroke="#000" stroke-width="0.15">
<text x="248.6" y="483.0" textLength="100" lengthAdjust="spacing">Temperatura zraka</text>
<text x="248.6" y="496.6" textLength="76" lengthAdjust="spacing">na 2m (st. C)</text>
<text x="248.6" y="510.3" textLength="106.6" lengthAdjust="spacing">start 00z12apr2013</text>
<text x="248.6" y="523.9" textLength="119.6" lengthAdjust="spacing">termin 00Z15APR2013</text>
</g>
<g shape-rendering="crispEdges">
<rect x="652" y="77" width="15" height="19" fill="#FFEFDF"/>
<rect x="652" y="96" width="15" height="18" fill="#D8BFD8"/>
<rect x="652" y="114" width="15" height="19" fill="#DDA0DD"/>
<rect x="652" y="133" width="15" height="19" fill="#BA55D3"/>
<rect x="652" y="152" width="15" height="18" fill="#8B008B"/>
<rect x="652" y="170" width="15" height="19" fill="#8B0000"/>
<rect x="652" y="189" width="15" height="18" fill="#CD0000"/>
<rect x="652" y="207" width="15" height="19" fill="#FF0000"/>
<rect x="652" y="226" width="15" height="19" fill="#FF5A00"/>
<rect x="652" y="245" width="15" height="18" fill="#F08228"/>
<rect x="652" y="263" width="15" height="19" fill="#E6AF2D"/>
<rect x="652" y="282" width="15" height="19" fill="#E6DC32"/>
<rect x="652" y="301" width="15" height="18" fill="#F0EB55"/>
<rect x="652" y="319" width="15" height="19" fill="#DFF3A0"/>
<rect x="652" y="338" width="15" height="19" fill="#A0E632"/>
<rect x="652" y="357" width="15" height="18" fill="#00DC00"/>
<rect x="652" y="375" width="15" height="19" fill="#00B400"/>
<rect x="652" y="394" width="15" height="18" fill="#007800"/>
<rect x="652" y="412" width="15" height="19" fill="#1E3CFF"/>
<rect x="652" y="431" width="15" height="19" fill="#00A0FF"/>
<rect x="652" y="450" width="15" height="18" fill="#B0E0E6"/>
<rect x="652" y="468" width="15" height="19" fill="#F0FFFF"/>
</g>
<g class="tx" font-size="12.5px" fill="#000">
<text x="669" y="81.2">29</text>
<text x="669" y="99.8">27</text>
<text x="669" y="118.5">25</text>
<text x="669" y="137.1">23</text>
<text x="669" y="155.7">21</text>
<text x="669" y="174.4">19</text>
<text x="669" y="193.0">17</text>
<text x="669" y="211.7">15</text>
<text x="669" y="230.3">13</text>
<text x="669" y="248.9">11</text>
<text x="669" y="267.6">9</text>
<text x="669" y="286.2">7</text>
<text x="669" y="304.8">5</text>
<text x="669" y="323.5">3</text>
<text x="669" y="342.1">1</text>
<text x="669" y="360.7">−1</text>
<text x="669" y="379.4">−3</text>
<text x="669" y="398.0">−5</text>
<text x="669" y="416.6">−7</text>
<text x="669" y="435.3">−9</text>
<text x="669" y="453.9">−11</text>
<text x="669" y="472.6">−13</text>
<text x="669" y="491.2">−15</text>
<text x="669" y="509.8">−17</text>
</g>
<text class="tx" x="664" y="528" font-size="9.6px" fill="#000" textLength="36" lengthAdjust="spacing">(st. C)</text>
</svg></body></html>
